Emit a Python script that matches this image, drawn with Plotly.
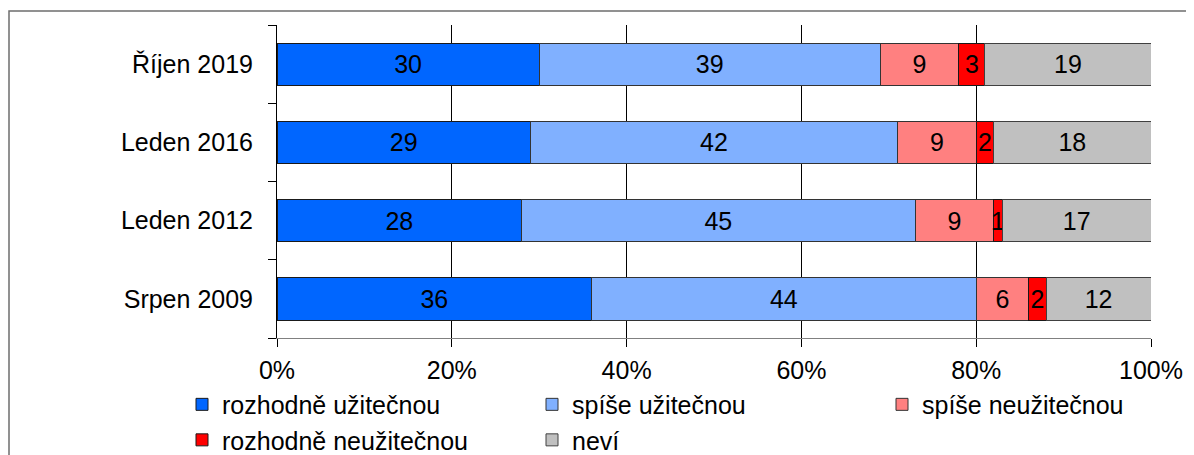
import plotly.graph_objects as go

categories = ["Říjen 2019", "Leden 2016", "Leden 2012", "Srpen 2009"]
series_names = ["rozhodně užitečnou", "spíše užitečnou", "spíše neužitečnou",
                "rozhodně neužitečnou", "neví"]
rozhodne_uzitecnou = [30, 29, 28, 36]
spise_uzitecnou = [39, 42, 45, 44]
spise_neuzitecnou = [9, 9, 9, 6]
rozhodne_neuzitecnou = [3, 2, 1, 2]
nevi = [19, 18, 17, 12]
tick_values = [0, 20, 40, 60, 80, 100]
tick_labels = ["0%", "20%", "40%", "60%", "80%", "100%"]

series_values = [rozhodne_uzitecnou, spise_uzitecnou, spise_neuzitecnou,
                 rozhodne_neuzitecnou, nevi]
colors = ["#0066FF", "#80B0FF", "#FF8080", "#FF0000", "#C0C0C0"]
line_colors = ["#1a1a1a", "#333333", "#333333", "#1a1a1a", "#404040"]

FONT = "Liberation Sans, Arial, sans-serif"
FS = 25

fig = go.Figure()
for name, vals, col, lc in zip(series_names, series_values, colors, line_colors):
    fig.add_trace(go.Bar(
        y=categories, x=vals, name=name, orientation="h",
        marker=dict(color=col, line=dict(color=lc, width=1)),
        text=[str(v) for v in vals], textposition="inside",
        insidetextanchor="middle", textangle=0,
        textfont=dict(family=FONT, size=FS, color="black"),
        constraintext="none", cliponaxis=False,
    ))

# the page body has an 8px margin: figure coords = image coords - 8
W, H = 1186, 447
L, R, T, B = 269, 43, 17, 117
pw, ph = W - L - R, H - T - B

fig.update_layout(
    width=W, height=H, barmode="stack", bargap=0.46,
    margin=dict(l=L, r=R, t=T, b=B, pad=0, autoexpand=False),
    paper_bgcolor="white", plot_bgcolor="white",
    font=dict(family=FONT, size=FS, color="black"),
    uniformtext=dict(minsize=FS, mode="show"),
    xaxis=dict(range=[0, 100], tickvals=tick_values, ticktext=tick_labels,
               showgrid=True, gridcolor="black", gridwidth=1,
               showline=True, linecolor="#808080", linewidth=1,
               ticks="outside", ticklen=8, tickcolor="black",
               ticklabelstandoff=2,
               zeroline=False, fixedrange=True),
    yaxis=dict(categoryorder="array", categoryarray=categories[::-1],
               showline=True, linecolor="black", linewidth=1,
               ticks="outside", tickson="boundaries", ticklen=8,
               tickcolor="black", showgrid=False, zeroline=False,
               ticklabelstandoff=18),
    legend=dict(orientation="h", x=(174 - L) / pw, xanchor="left",
                y=-(373.6 - (T + ph)) / ph, yanchor="top",
                entrywidth=305, entrywidthmode="pixels",
                font=dict(family=FONT, size=FS, color="black"),
                traceorder="normal", bgcolor="rgba(0,0,0,0)"),
    showlegend=True,
)

fig.add_shape(type="rect", xref="paper", yref="paper",
              x0=(1 - L) / pw, x1=(1220 - L) / pw,
              y0=-(490 - (T + ph)) / ph, y1=1 + (T - 3) / ph,
              line=dict(color="#6e6e6e", width=1.5), fillcolor="rgba(0,0,0,0)",
              layer="below")

fig.write_html("out.html")
